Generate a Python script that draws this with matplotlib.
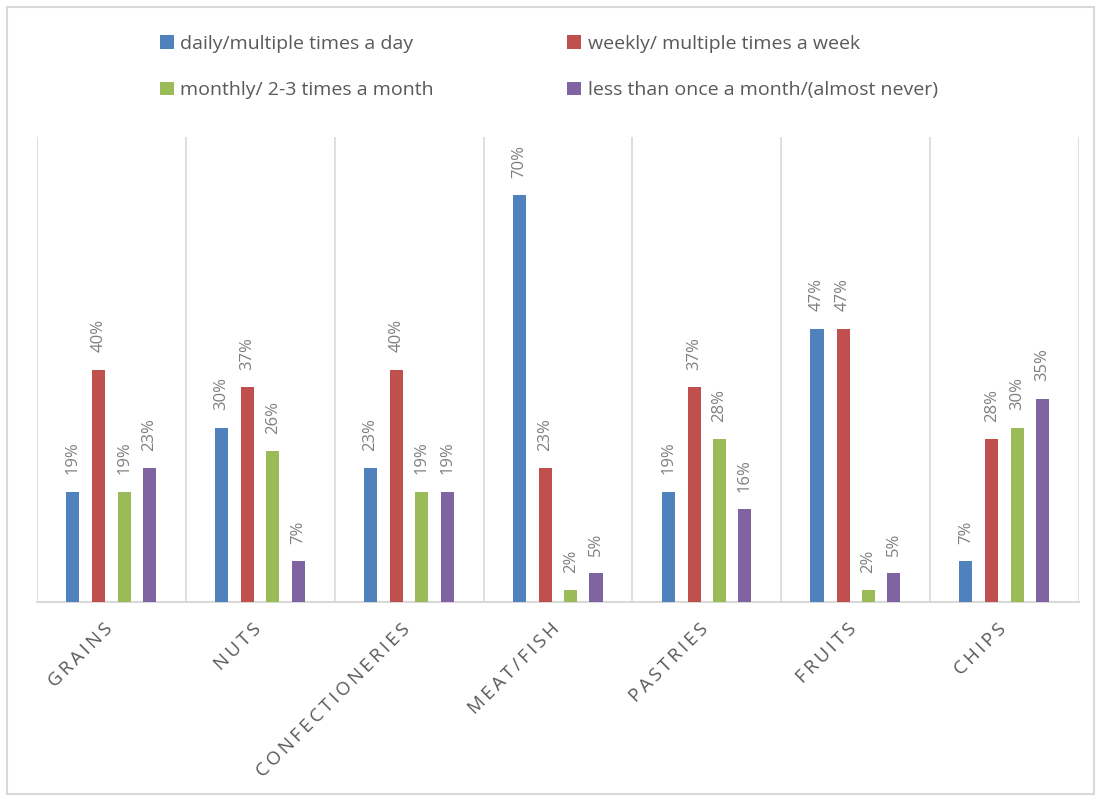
import matplotlib
matplotlib.use("Agg")
import matplotlib.pyplot as plt
import matplotlib.transforms as mtransforms
from matplotlib.patches import Rectangle, Patch
import numpy as np

categories = ["GRAINS", "NUTS", "CONFECTIONERIES", "MEAT/FISH", "PASTRIES", "FRUITS", "CHIPS"]
series_names = ["daily/multiple times a day", "weekly/ multiple times a week",
                "monthly/ 2-3 times a month", "less than once a month/(almost never)"]
daily = [19, 30, 23, 70, 19, 47, 7]
weekly = [40, 37, 40, 23, 37, 47, 28]
monthly = [19, 26, 19, 2, 28, 2, 30]
rarely = [23, 7, 19, 5, 16, 5, 35]
colors = ["#4F81BD", "#C0504D", "#9BBB59", "#8064A2"]

plt.rcParams['font.family'] = ['Open Sans', 'DejaVu Sans']
txt_color = "#595959"
lbl_color = "#7F7F7F"
grid_color = "#D9D9D9"

fig = plt.figure(figsize=(10.96, 7.96), dpi=100)
fig.patches.append(Rectangle((7/1096, 0.002), 1087/1096, 1 - 7/796 - 0.002, transform=fig.transFigure,
                             fill=False, edgecolor=grid_color, linewidth=1.5))
ax = fig.add_axes([37/1096, 1 - 602/796, (1079 - 37)/1096, (602 - 137)/796])

series = [daily, weekly, monthly, rarely]
n = len(categories)
x = np.arange(n)
offsets = [-0.26, -0.085, 0.085, 0.255]
width = 0.088
for vals, off, col, name in zip(series, offsets, colors, series_names):
    bars = ax.bar(x + off, vals, width=width, color=col, label=name, zorder=3)
    for b, v in zip(bars, vals):
        ax.annotate(f"{v}%", (b.get_x() + b.get_width()/2, v), xytext=(0, 12.5),
                    textcoords="offset points", rotation=90, ha="center", va="bottom",
                    fontsize=12, color=lbl_color)

ax.set_xlim(-0.5, n - 0.5)
ax.set_ylim(0, 80)
for b in np.arange(-0.5, n, 1.0):
    ax.axvline(b, color=grid_color, linewidth=1.2, zorder=1)
for s in ["top", "right", "left"]:
    ax.spines[s].set_visible(False)
ax.spines["bottom"].set_color(grid_color)
ax.spines["bottom"].set_linewidth(1.5)
ax.set_yticks([])
ax.set_xticks(x)
spaced = ["\u2009".join(c) for c in categories]
ax.set_xticklabels(spaced, rotation=45, ha="right", va="top", rotation_mode="anchor",
                   fontsize=13.5, color=txt_color)
ax.tick_params(axis="x", length=0, pad=13)
shift = mtransforms.ScaledTranslation(-8/100, 0, fig.dpi_scale_trans)
for lbl in ax.get_xticklabels():
    lbl.set_transform(lbl.get_transform() + shift)

# legend filled row-wise: reorder for matplotlib's column-major filling
order = [0, 2, 1, 3]
patches = [Patch(facecolor=colors[i], edgecolor="none") for i in order]
labels = [series_names[i] for i in order]
fig.legend(patches, labels, loc="upper left", bbox_to_anchor=(160/1096, 1 - 35/796),
           ncol=2, frameon=False, fontsize=14, labelcolor=txt_color, handlelength=0.7,
           handleheight=0.7, handletextpad=0.35, columnspacing=6.85, labelspacing=1.45,
           borderpad=0, borderaxespad=0)

fig.savefig("out.png", dpi=100)
